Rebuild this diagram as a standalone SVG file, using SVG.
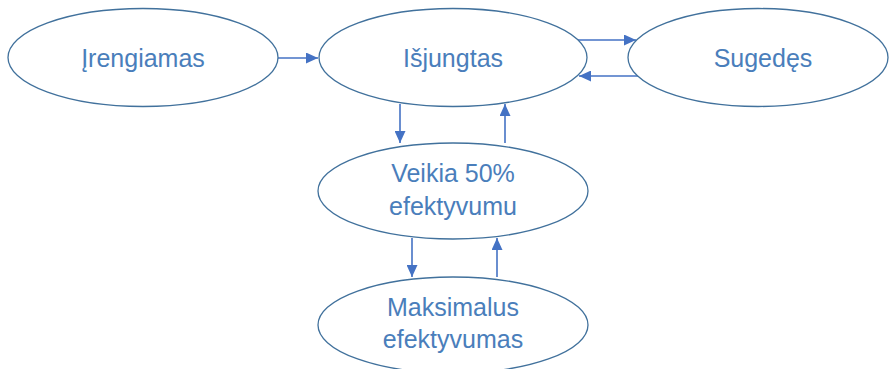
<svg xmlns="http://www.w3.org/2000/svg" width="889" height="369" viewBox="0 0 889 369">
  <style>
    .node ellipse { fill: #ffffff; stroke: #41719c; stroke-width: 1.3; }
    .node text { font-family: "Liberation Sans", Arial, sans-serif; font-size: 25px; fill: #4a7ebb; text-anchor: middle; }
    .edge { stroke: #4472c4; stroke-width: 1.6; fill: none; marker-end: url(#arrow); }
  </style>
  <defs>
    <marker id="arrow" viewBox="0 0 12 11" refX="12" refY="5.5" markerWidth="12" markerHeight="11" markerUnits="userSpaceOnUse" orient="auto">
      <path d="M0,0 L12,5.5 L0,11 Z" fill="#4472c4"/>
    </marker>
  </defs>
  <rect width="889" height="369" fill="#ffffff"/>

  <g id="connectors">
    <line class="edge" x1="278" y1="58" x2="318" y2="58"/>
    <line class="edge" x1="578" y1="40" x2="636" y2="40"/>
    <line class="edge" x1="638" y1="76" x2="579" y2="76"/>
    <line class="edge" x1="400" y1="104" x2="400" y2="143"/>
    <line class="edge" x1="505" y1="143" x2="505" y2="104"/>
    <line class="edge" x1="412" y1="238" x2="412" y2="277"/>
    <line class="edge" x1="497" y1="277" x2="497" y2="238"/>
  </g>

  <g id="node-irengiamas" class="node">
    <ellipse cx="143" cy="57.5" rx="135" ry="49"/>
    <text x="143" y="67">Įrengiamas</text>
  </g>
  <g id="node-isjungtas" class="node">
    <ellipse cx="453" cy="57.5" rx="134" ry="49"/>
    <text x="453" y="67">Išjungtas</text>
  </g>
  <g id="node-sugedes" class="node">
    <ellipse cx="758" cy="57.5" rx="130" ry="49"/>
    <text x="763" y="67">Sugedęs</text>
  </g>
  <g id="node-veikia" class="node">
    <ellipse cx="453" cy="191" rx="135" ry="48"/>
    <text x="453" y="182">Veikia 50%</text>
    <text x="453" y="215">efektyvumu</text>
  </g>
  <g id="node-maksimalus" class="node">
    <ellipse cx="453" cy="325" rx="135" ry="48"/>
    <text x="453" y="316">Maksimalus</text>
    <text x="453" y="348">efektyvumas</text>
  </g>
</svg>
